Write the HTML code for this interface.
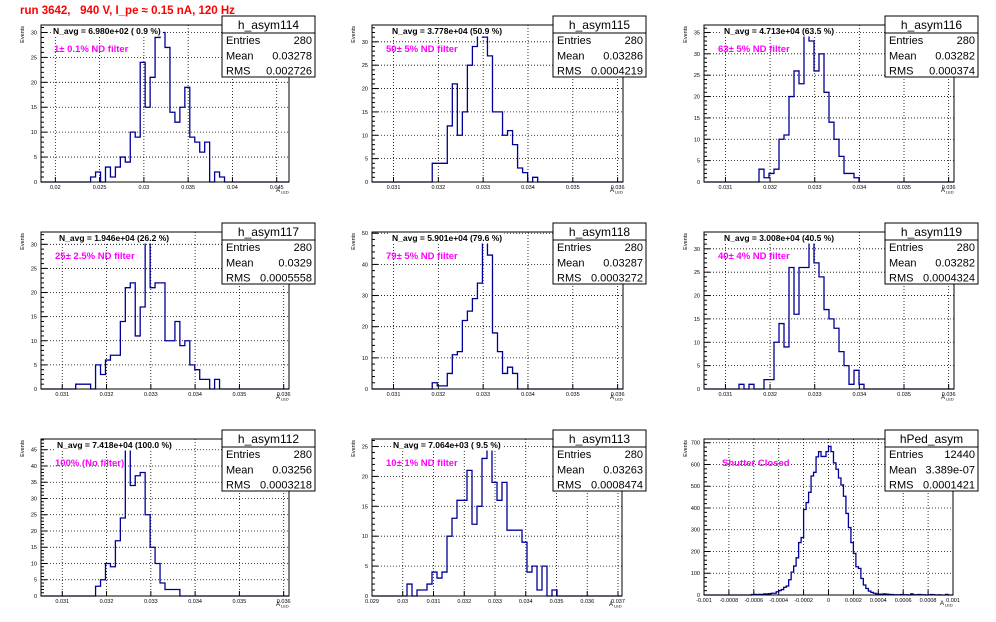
<!DOCTYPE html>
<html><head><meta charset="utf-8"><style>
html,body{margin:0;padding:0;background:#fff;}
svg{display:block;font-family:"Liberation Sans",sans-serif;}
</style></head><body>
<svg id="c" width="996" height="622" viewBox="0 0 996 622" xmlns="http://www.w3.org/2000/svg">
<rect x="0" y="0" width="996" height="622" fill="#fff"/>
<text x="20" y="14" font-size="11.5" font-weight="bold" fill="#ff0000" xml:space="preserve">run 3642,   940 V, I_pe ≈ 0.15 nA, 120 Hz</text>
</svg>
<script>
// ---- data ----
const counts114 = [1,2,0,3,1,3,5,4,10,9,24,15,21,29,30,27,14,12,15,19,9,8,6,8,0,2,1];
const counts115 = [4,4,4,12,21,10,15,25,29,32,31,27,15,15,10,11,8,3,2,0,1];
const counts116 = [3,1,2,3,10,11,20,26,23,35,33,26,30,21,14,10,6,2,2,1];
const counts117 = [1,1,1,0,5,3,6,7,7,14,21,22,11,17,31,21,22,22,10,10,14,9,10,5,4,2,2,0,2];
const counts118 = [2,1,1,5,11,12,22,25,29,34,48,43,18,12,5,7,5];
const counts119 = [1,0,1,0,0,2,2,10,14,9,26,16,26,26,32,27,24,17,15,13,8,5,1,4,1];
const counts112 = [3,5,10,9,17,24,46,34,37,38,25,15,10,4,2,2,2];
const counts113 = [2,0,1,1,2,4,3,4,10,13,16,16,21,12,15,23,25,19,16,19,11,11,11,9,4,5,1,5,0,1];
const countsPed = [2,3,2,3,3,5,5,6,8,8,15,20,25,35,41,70,105,133,171,241,264,393,425,472,547,564,635,659,637,637,659,683,659,607,578,538,506,454,375,310,241,191,130,122,76,46,30,18,12,8,5,4,4,5,4,3,2,1,1,1,2,1,1,0,5,1,1,2,1,1,0,1,2,1,0,1,0,0,3];
const firstBins = [10,12,11,7,12,7,11,7,19];
const xTicksA = [0.02,0.025,0.03,0.035,0.04,0.045];
const xLabelsA = ["0.02","0.025","0.03","0.035","0.04","0.045"];
const xTicksB = [0.031,0.032,0.033,0.034,0.035,0.036];
const xLabelsB = ["0.031","0.032","0.033","0.034","0.035","0.036"];
const xTicksC = [0.029,0.03,0.031,0.032,0.033,0.034,0.035,0.036,0.037];
const xLabelsC = ["0.029","0.03","0.031","0.032","0.033","0.034","0.035","0.036","0.037"];
const xTicksD = [-0.001,-0.0008,-0.0006,-0.0004,-0.0002,0,0.0002,0.0004,0.0006,0.0008,0.001];
const xLabelsD = ["-0.001","-0.0008","-0.0006","-0.0004","-0.0002","0","0.0002","0.0004","0.0006","0.0008","0.001"];
const histNames = ["h_asym114","h_asym115","h_asym116","h_asym117","h_asym118","h_asym119","h_asym112","h_asym113","hPed_asym"];
const entries = ["280","280","280","280","280","280","280","280","12440"];
const means = ["0.03278","0.03286","0.03282","0.0329","0.03287","0.03282","0.03256","0.03263","3.389e-07"];
const rmsVals = ["0.002726","0.0004219","0.000374","0.0005558","0.0003272","0.0004324","0.0003218","0.0008474","0.0001421"];
const navgTexts = ["N_avg = 6.980e+02 ( 0.9 %)","N_avg = 3.778e+04 (50.9 %)","N_avg = 4.713e+04 (63.5 %)","N_avg = 1.946e+04 (26.2 %)","N_avg = 5.901e+04 (79.6 %)","N_avg = 3.008e+04 (40.5 %)","N_avg = 7.418e+04 (100.0 %)","N_avg = 7.064e+03 ( 9.5 %)",""];
const filterTexts = ["1\u00b1 0.1% ND filter","50\u00b1 5% ND filter","63\u00b1 5% ND filter","25\u00b1 2.5% ND filter","79\u00b1 5% ND filter","40\u00b1 4% ND filter","100% (No filter)","10\u00b1 1% ND filter","Shutter Closed"];
const yStepsMajor = [5,5,5,5,10,5,5,5,100];
const yStepsMinor = [1,1,1,1,2,1,1,1,20];

// ---- layout ----
const allCounts=[counts114,counts115,counts116,counts117,counts118,counts119,counts112,counts113,countsPed];
const ranges=[[0.01838,0.04639,50],[0.03052,0.03612,50],[0.03052,0.03612,50],[0.03052,0.03612,50],[0.03052,0.03612,50],[0.03052,0.03612,50],[0.03052,0.03612,50],[0.029,0.03713,50],[-0.001,0.001,100]];
const tickSets=[[xTicksA,xLabelsA],[xTicksB,xLabelsB],[xTicksB,xLabelsB],[xTicksB,xLabelsB],[xTicksB,xLabelsB],[xTicksB,xLabelsB],[xTicksB,xLabelsB],[xTicksC,xLabelsC],[xTicksD,xLabelsD]];
const frames=[[41,289,25,182],[372,623,25,182],[704,954,25,182],[41,289,232,389],[372,623,232,389],[704,954,232,389],[41,289,439,596],[372,622,439,596],[704,953,439,595]];
const navgDx=[12,20,20,18,20,20,16,21,0];
const filtDx=[13,14,14,14,14,14,14,14,18];

const NS="http://www.w3.org/2000/svg";
const svg=document.getElementById('c');
function mk(tag,attrs,parent){const e=document.createElementNS(NS,tag);for(const k in attrs)e.setAttribute(k,attrs[k]);(parent||svg).appendChild(e);return e;}

for(let p=0;p<9;p++){
  const [L,R,T,B]=frames[p];
  const [xmin,xmax,nb]=ranges[p];
  const counts=allCounts[p];
  const ymax=1.05*Math.max(...counts);
  const xs=v=>L+(v-xmin)/(xmax-xmin)*(R-L);
  const ys=v=>B-v/ymax*(B-T);
  const g=mk('g',{});
  
  
  const fr=mk('rect',{x:L,y:T,width:R-L,height:B-T,fill:'#fff',stroke:'none'},g);
  
  
  // grid
  const [xt,xl]=tickSets[p];
  xt.forEach((v,i)=>{
    const x=xs(v);
    if(x>L+0.5&&x<R-0.5){const gl=mk('line',{x1:x,x2:x,y1:T,y2:B,stroke:'#000','stroke-width':0.8,'stroke-dasharray':'1,2'},g);
      }
    const tk=mk('line',{x1:x,x2:x,y1:B,y2:B-5,stroke:'#000','stroke-width':1},g);
    
    const t=mk('text',{x:x,y:B+7,'font-size':5.5,'text-anchor':'middle',fill:'#000'},g);
    t.textContent=xl[i];
    
  });
  const ystep=yStepsMajor[p], ymin=yStepsMinor[p];
  for(let v=0;v<=ymax+1e-9;v+=ymin){
    const y=ys(v);
    const major=Math.abs(v/ystep-Math.round(v/ystep))<1e-6;
    const tk=mk('line',{x1:L,x2:L+(major?6:3),y1:y,y2:y,stroke:'#000','stroke-width':1},g);
    
    if(major){
      if(v>0){const gl=mk('line',{x1:L,x2:R,y1:y,y2:y,stroke:'#000','stroke-width':0.8,'stroke-dasharray':'1,2'},g);
        }
      const t=mk('text',{x:L-4,y:y+2,'font-size':5.5,'text-anchor':'end',fill:'#000'},g);
      t.textContent=String(v);
      
    }
  }
  // histogram
  const bw=(xmax-xmin)/nb;
  let d='M'+L+','+B;
  for(let i=0;i<nb;i++){
    const idx=i-firstBins[p];
    const c=(idx>=0&&idx<counts.length)?counts[idx]:0;
    const x0=xs(xmin+i*bw), x1=xs(xmin+(i+1)*bw), y=ys(c);
    d+=' L'+x0.toFixed(2)+','+y.toFixed(2)+' L'+x1.toFixed(2)+','+y.toFixed(2);
  }
  d+=' L'+R+','+B;
  const h=mk('path',{d:d,fill:'none',stroke:'#000099','stroke-width':1.3},g);
  
  
  mk('rect',{x:L,y:T,width:R-L,height:B-T,fill:'none',stroke:'#000','stroke-width':1},g);
  // axis titles
  const yt=mk('text',{x:0,y:0,'font-size':5.5,'text-anchor':'end',transform:'translate('+(L-17)+','+(T+1)+') rotate(-90)',fill:'#000'},g);
  yt.textContent='Events';
  
  const xtit=mk('text',{x:R-13,y:B+10,'font-size':6,fill:'#000'},g);
  
  const a=mk('tspan',{},xtit);a.textContent='A';
  const sb=mk('tspan',{'font-size':4,dy:1.5,dx:1},xtit);sb.textContent='LED';
  // N_avg
  if(navgTexts[p]){
    const nt=mk('text',{x:L+navgDx[p],y:T+9,'font-size':8.5,'font-weight':'bold',fill:'#000'},g);
    nt.textContent=navgTexts[p];
    
    const bb=nt.getBBox();
    const bg=mk('rect',{x:bb.x-2,y:T+0.5,width:bb.width+4,height:11,fill:'#fff'},g);
    
    g.insertBefore(bg,nt);
  }
  const ft=mk('text',{x:L+filtDx[p],y:T+27,'font-size':9.5,'font-weight':'bold',fill:'#ff00ff'},g);
  ft.textContent=filterTexts[p];
  
  // stats box
  const sx=L+181, sy=T-9, sw=93, sh=61;
  const sg=mk('g',{},g);
  
  mk('rect',{x:sx,y:sy,width:sw,height:sh,fill:'#fff',stroke:'#000','stroke-width':1},sg);
  mk('line',{x1:sx,x2:sx+sw,y1:sy+17,y2:sy+17,stroke:'#000','stroke-width':1},sg);
  const st=mk('text',{x:sx+sw/2,y:sy+13,'font-size':12,'text-anchor':'middle',fill:'#000'},sg);
  st.textContent=histNames[p];
  
  const rows=[['Entries',entries[p]],['Mean',means[p]],['RMS',rmsVals[p]]];
  rows.forEach((r,i)=>{
    const yy=sy+28+i*15.3;
    const l=mk('text',{x:sx+4,y:yy,'font-size':11,fill:'#000'},sg);l.textContent=r[0];
    
    const v=mk('text',{x:sx+sw-3,y:yy,'font-size':11,'text-anchor':'end',fill:'#000'},sg);v.textContent=r[1];
    
  });
}
</script>
</body></html>
